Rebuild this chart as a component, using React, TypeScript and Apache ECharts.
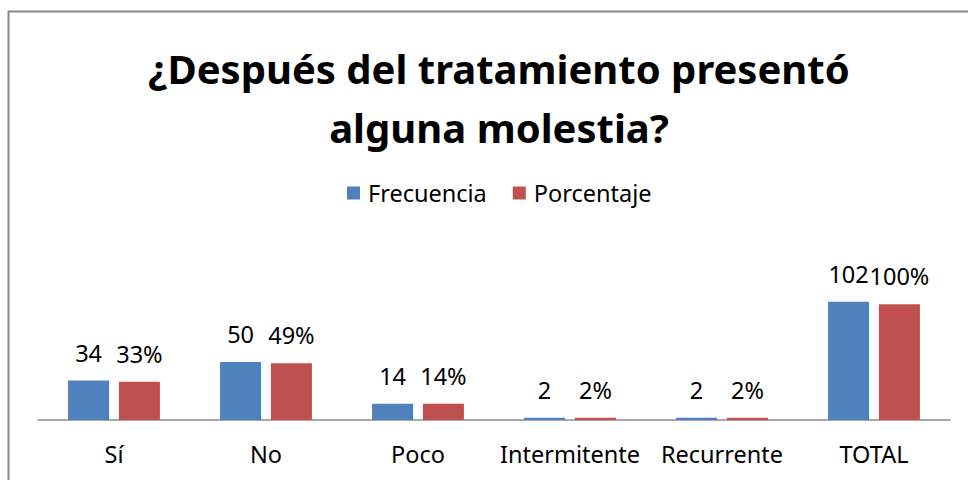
import React, { useEffect, useRef } from "react";
import * as echarts from "echarts";

const categories = ["Sí", "No", "Poco", "Intermitente", "Recurrente", "TOTAL"];
const frecuencia = [34, 50, 14, 2, 2, 102];
const porcentaje = [33, 49, 14, 2, 2, 100];
const titleText = "¿Después del tratamiento presentó\nalguna molestia?";

export default function App() {
  const ref = useRef<HTMLDivElement>(null);
  useEffect(() => {
    const chart = echarts.init(ref.current!, null, { renderer: "svg" });
    const font = "'Noto Sans', sans-serif";
    const fs = 23.5;
    chart.setOption({
      animation: false,
      backgroundColor: "#ffffff",
      title: {
        text: titleText,
        left: 494,
        top: 34,
        textAlign: "center",
        textStyle: {
          fontFamily: font,
          fontWeight: "bold",
          fontSize: 40,
          lineHeight: 59,
          color: "#000",
        },
      },
      legend: {
        top: 176,
        left: 342,
        itemWidth: 13,
        itemHeight: 13,
        itemGap: 26,
        icon: "rect",
        textStyle: { fontFamily: font, fontSize: fs, color: "#000", padding: [0, 0, 0, 3] },
        data: ["Frecuencia", "Porcentaje"],
      },
      grid: { left: 38, right: 18, top: 281, bottom: 60 },
      xAxis: {
        type: "category",
        data: categories,
        axisLine: { lineStyle: { color: "#8c8c8c", width: 1.5 } },
        axisTick: { show: false },
        axisLabel: { fontFamily: font, fontSize: fs, color: "#000", margin: 22, interval: 0 },
      },
      yAxis: {
        type: "value",
        min: 0,
        max: 120,
        show: false,
        splitLine: { show: false },
      },
      graphic: [
        {
          type: "rect",
          shape: { x: 8.5, y: 11.5, width: 980, height: 500 },
          style: { fill: "none", stroke: "#888888", lineWidth: 2 },
          silent: true,
        },
      ],
      series: [
        {
          name: "Frecuencia",
          type: "bar",
          data: frecuencia,
          barWidth: 41,
          barGap: "24%",
          itemStyle: { color: "#4F81BD" },
          labelLayout: { hideOverlap: false },
          label: {
            show: true,
            position: "top",
            distance: 16,
            fontFamily: font,
            fontSize: fs,
            color: "#000",
          },
        },
        {
          name: "Porcentaje",
          type: "bar",
          data: porcentaje,
          barWidth: 41,
          itemStyle: { color: "#C0504D" },
          labelLayout: { hideOverlap: false },
          label: {
            show: true,
            position: "top",
            distance: 16,
            fontFamily: font,
            fontSize: fs,
            color: "#000",
            formatter: "{c}%",
          },
        },
      ],
    });
    return () => chart.dispose();
  }, []);
  return (
    <div
      ref={ref}
      style={{ position: "absolute", left: 0, top: 0, width: 968, height: 480 }}
    />
  );
}
